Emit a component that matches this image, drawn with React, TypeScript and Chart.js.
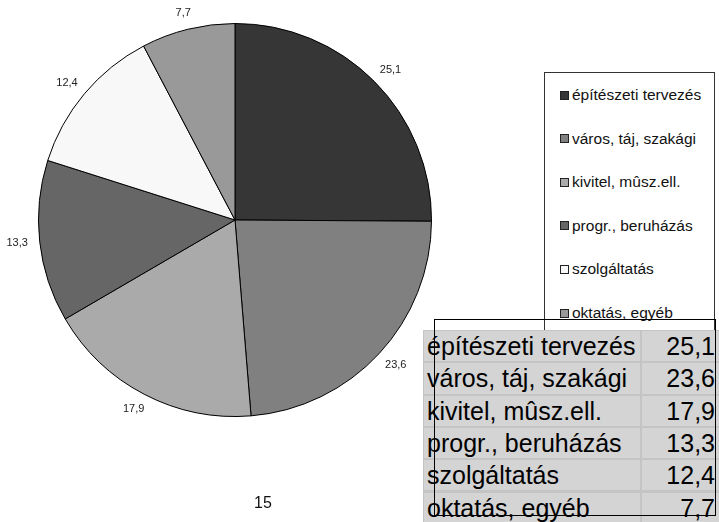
import React, { useEffect, useRef } from "react";
import { Chart, registerables } from "chart.js";

Chart.register(...registerables);

const categories = [
  "építészeti tervezés",
  "város, táj, szakági",
  "kivitel, mûsz.ell.",
  "progr., beruházás",
  "szolgáltatás",
  "oktatás, egyéb",
];
const values = [25.1, 23.6, 17.9, 13.3, 12.4, 7.7];
const sliceColors = ["#363636", "#808080", "#aaaaaa", "#666666", "#f8f8f8", "#999999"];
const pageNumber = "15";

const fmt = (v: number) => v.toFixed(1).replace(".", ",");
const FONT = '"Liberation Sans", Arial, sans-serif';

const labelPlugin = {
  id: "sliceLabels",
  afterDatasetsDraw(chart: any) {
    const ctx = chart.ctx;
    const meta = chart.getDatasetMeta(0);
    ctx.save();
    ctx.font = `11px ${FONT}`;
    ctx.fillStyle = "#222";
    ctx.textAlign = "center";
    ctx.textBaseline = "middle";
    meta.data.forEach((arc: any, i: number) => {
      const p = arc.getProps(["x", "y", "startAngle", "endAngle", "outerRadius"], true);
      const mid = (p.startAngle + p.endAngle) / 2;
      const txt = fmt(values[i]);
      const w = ctx.measureText(txt).width;
      const h = 10;
      const c = Math.cos(mid);
      const s = Math.sin(mid);
      const gap = 12;
      const x = p.x + c * (p.outerRadius + gap) + (c * w) / 2;
      const y = p.y + s * (p.outerRadius + gap) + (s * h) / 2;
      ctx.fillText(txt, x, y);
    });
    ctx.font = `16px ${FONT}`;
    ctx.fillStyle = "#111";
    ctx.fillText(pageNumber, 263, 504);
    ctx.restore();
  },
};

export default function App() {
  const ref = useRef<HTMLCanvasElement | null>(null);
  useEffect(() => {
    if (!ref.current) return;
    const chart = new Chart(ref.current, {
      type: "pie",
      data: {
        labels: categories,
        datasets: [
          {
            data: values,
            backgroundColor: sliceColors,
            borderColor: "#000",
            borderWidth: 1,
          },
        ],
      },
      options: {
        responsive: false,
        animation: false,
        devicePixelRatio: 1,
        layout: { padding: { left: 38, top: 23, right: 287, bottom: 105 } },
        plugins: { legend: { display: false }, tooltip: { enabled: false } },
      },
      plugins: [labelPlugin],
    });
    return () => chart.destroy();
  }, []);

  const rowTop = 330;
  const rowH = 32.3;

  return (
    <div style={{ position: "absolute", left: 0, top: 0, width: 719, height: 522, overflow: "hidden", background: "#fff", fontFamily: FONT }}>
      <canvas ref={ref} width={719} height={522} style={{ position: "absolute", left: 0, top: 0 }} />
      {/* legend box */}
      <div style={{ position: "absolute", left: 544, top: 72, width: 169, height: 258, border: "1px solid #333", background: "#fff" }} />
      {categories.map((c, i) => (
        <div key={c} style={{ position: "absolute", left: 560, top: 95 + i * 43.6 - 9, height: 18, display: "flex", alignItems: "center", fontSize: 15.5, color: "#111", whiteSpace: "nowrap" }}>
          <span style={{ display: "inline-block", width: 7, height: 7, background: sliceColors[i], border: "1px solid #222", marginRight: 3 }} />
          {c}
        </div>
      ))}
      {/* data table */}
      <div style={{ position: "absolute", left: 423, top: rowTop, width: 296, height: 522 - rowTop, background: "#c4c4c4" }}>
        {categories.map((c, i) => (
          <React.Fragment key={c}>
            <div style={{ position: "absolute", left: 1, top: i * rowH + 1, width: 216, height: rowH - 2, background: "#d4d4d4", fontSize: 25, lineHeight: `${rowH - 2}px`, paddingLeft: 3, boxSizing: "border-box", color: "#000", whiteSpace: "nowrap", overflow: "visible" }}>
              {c}
            </div>
            <div style={{ position: "absolute", left: 219, top: i * rowH + 1, width: 77, height: rowH - 2, background: "#d4d4d4", fontSize: 25, lineHeight: `${rowH - 2}px`, paddingRight: 4, boxSizing: "border-box", textAlign: "right", color: "#000" }}>
              {fmt(values[i])}
            </div>
          </React.Fragment>
        ))}
      </div>
      {/* overlay rectangle */}
      <div style={{ position: "absolute", left: 434, top: 319, width: 280, height: 195, border: "1px solid #000", pointerEvents: "none" }} />
    </div>
  );
}
